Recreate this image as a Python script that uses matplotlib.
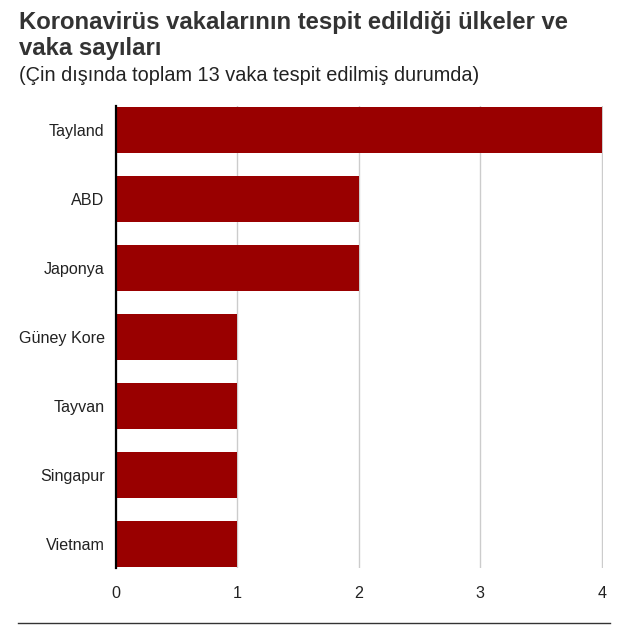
import matplotlib.pyplot as plt

# veriler
ulkeler = ['Tayland', 'ABD', 'Japonya', 'Güney Kore', 'Tayvan', 'Singapur', 'Vietnam']
vakalar = [4, 2, 2, 1, 1, 1, 1]
x_ticks = [0, 1, 2, 3, 4]

plt.rcParams['font.family'] = ['Liberation Sans', 'DejaVu Sans']

W, H = 621, 629
fig = plt.figure(figsize=(W / 100, H / 100), dpi=100)
ax = fig.add_axes([115.7 / W, 1 - 568 / H, (603 - 115.7) / W, (568 - 106) / H])

y = list(range(len(ulkeler)))
ax.barh(y, vakalar, height=0.66, color='#990000', zorder=3)

ax.set_xlim(0, 4.01)
ax.set_ylim(len(ulkeler) - 0.65, -0.35)
ax.set_yticks(y)
ax.set_yticklabels(ulkeler, fontsize=11.6, color='#222222')
ax.set_xticks(x_ticks)
ax.set_xticklabels([str(t) for t in x_ticks], fontsize=11.6, color='#222222')
ax.tick_params(axis='both', length=0)
ax.tick_params(axis='y', pad=8)
ax.tick_params(axis='x', pad=13)

ax.grid(axis='x', color='#cccccc', linewidth=1, zorder=0)
for s in ['top', 'right', 'bottom']:
    ax.spines[s].set_visible(False)
ax.spines['left'].set_color('black')
ax.spines['left'].set_linewidth(1.6)
ax.spines['left'].set_zorder(4)

# başlık
fig.text(19 / W, 1 - 29 / H, 'Koronavirüs vakalarının tespit edildiği ülkeler ve',
         fontsize=17.2, fontweight='bold', color='#333333', va='baseline')
fig.text(19 / W, 1 - 55 / H, 'vaka sayıları',
         fontsize=17.2, fontweight='bold', color='#333333', va='baseline')
fig.text(19 / W, 1 - 81 / H, '(Çin dışında toplam 13 vaka tespit edilmiş durumda)',
         fontsize=14.3, color='#222222', va='baseline')

# alt çizgi
fig.add_artist(plt.Line2D([18 / W, 610 / W], [1 - 623 / H, 1 - 623 / H],
                          color='#333333', linewidth=1))

fig.savefig('out.png', dpi=100)
